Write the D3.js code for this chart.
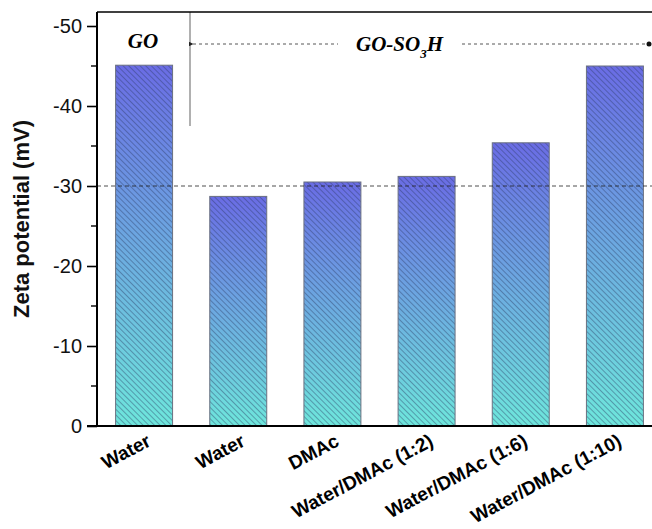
<!DOCTYPE html>
<html>
<head>
<meta charset="utf-8">
<script src="https://cdn.jsdelivr.net/npm/d3@7"></script>
<style>
  body { margin: 0; background: #fff; }
  svg { display: block; }
</style>
</head>
<body>
<div id="chart"></div>
<script>
var labels = ["Water", "Water", "DMAc", "Water/DMAc (1:2)", "Water/DMAc (1:6)", "Water/DMAc (1:10)"];
var zeta = [-45.1, -28.7, -30.5, -31.2, -35.4, -45.0];
var yTicks = [0, -10, -20, -30, -40, -50];
var yMinor = [-5, -15, -25, -35, -45];

var W = 652, H = 529;
var plot = {left: 97, right: 662, top: 12, bottom: 426};
var sans = "'Liberation Sans', Arial, sans-serif";
var serif = "'Liberation Serif', 'DejaVu Serif', serif";

var svg = d3.select("#chart").append("svg")
  .attr("width", W)
  .attr("height", H);

var defs = svg.append("defs");
var grad = defs.append("linearGradient")
  .attr("id", "barGrad")
  .attr("x1", 0).attr("y1", 0).attr("x2", 0).attr("y2", 1);
grad.append("stop").attr("offset", "0%").attr("stop-color", "#6a6ce4");
grad.append("stop").attr("offset", "100%").attr("stop-color", "#6ee6dc");

var hatch = defs.append("pattern")
  .attr("id", "hatch")
  .attr("patternUnits", "userSpaceOnUse")
  .attr("width", 4).attr("height", 4)
  .attr("patternTransform", "rotate(-45)");
hatch.append("line")
  .attr("x1", 0.5).attr("y1", 0).attr("x2", 0.5).attr("y2", 4)
  .attr("stroke", "#2a3a60")
  .attr("stroke-opacity", 0.45)
  .attr("stroke-width", 0.9);

var x = d3.scaleBand()
  .domain(d3.range(labels.length))
  .range([plot.left, plot.right])
  .paddingInner(0.395)
  .paddingOuter(0.1975);

var y = d3.scaleLinear()
  .domain([0, -51.75])
  .range([plot.bottom, plot.top]);

// bars: gradient fill, then hatch on top
var bars = svg.append("g");
bars.selectAll("rect.fill")
  .data(zeta)
  .join("rect")
  .attr("class", "fill")
  .attr("x", (d, i) => x(i))
  .attr("y", d => y(d))
  .attr("width", x.bandwidth())
  .attr("height", d => y(0) - y(d))
  .attr("fill", "url(#barGrad)");
bars.selectAll("rect.hatch")
  .data(zeta)
  .join("rect")
  .attr("class", "hatch")
  .attr("x", (d, i) => x(i))
  .attr("y", d => y(d))
  .attr("width", x.bandwidth())
  .attr("height", d => y(0) - y(d))
  .attr("fill", "url(#hatch)")
  .attr("stroke", "#6b7180")
  .attr("stroke-width", 1);

// -30 reference line
svg.append("line")
  .attr("x1", plot.left).attr("x2", W)
  .attr("y1", y(-30)).attr("y2", y(-30))
  .attr("stroke", "#222")
  .attr("stroke-width", 0.8)
  .attr("stroke-dasharray", "4,3");

// divider between GO and GO-SO3H
svg.append("line")
  .attr("x1", 190).attr("x2", 190)
  .attr("y1", plot.top).attr("y2", y(-37.5))
  .attr("stroke", "#b0b0b0")
  .attr("stroke-width", 2);

// annotation arrow
var annY = 44;
defs.append("marker")
  .attr("id", "arrow")
  .attr("viewBox", "0 0 10 10")
  .attr("refX", 1).attr("refY", 5)
  .attr("markerWidth", 5).attr("markerHeight", 5)
  .attr("orient", "auto-start-reverse")
  .append("path")
  .attr("d", "M10,0 L0,5 L10,10 z")
  .attr("fill", "#222");
svg.append("line")
  .attr("x1", 193).attr("x2", 338)
  .attr("y1", annY).attr("y2", annY)
  .attr("stroke", "#444")
  .attr("stroke-width", 0.9)
  .attr("stroke-dasharray", "3,3")
  .attr("marker-start", "url(#arrow)");
svg.append("line")
  .attr("x1", 462).attr("x2", 648)
  .attr("y1", annY).attr("y2", annY)
  .attr("stroke", "#444")
  .attr("stroke-width", 0.9)
  .attr("stroke-dasharray", "3,3");
svg.append("circle")
  .attr("cx", 649).attr("cy", annY).attr("r", 2.5)
  .attr("fill", "#111");

svg.append("text")
  .attr("x", 143).attr("y", 48)
  .attr("text-anchor", "middle")
  .style("font-family", serif)
  .style("font-weight", "bold")
  .style("font-style", "italic")
  .style("font-size", "21px")
  .text("GO");

var soText = svg.append("text")
  .attr("x", 356).attr("y", 51)
  .style("font-family", serif)
  .style("font-weight", "bold")
  .style("font-style", "italic")
  .style("font-size", "21px");
soText.append("tspan").text("GO-SO");
soText.append("tspan").attr("dy", 7).style("font-size", "13px").text("3");
soText.append("tspan").attr("dy", -7).attr("dx", 0).text("H");

// frame top
svg.append("line")
  .attr("x1", plot.left).attr("x2", W)
  .attr("y1", plot.top).attr("y2", plot.top)
  .attr("stroke", "#000")
  .attr("stroke-width", 1.6);

// y axis
var yAxis = svg.append("g")
  .attr("transform", "translate(" + plot.left + ",0)")
  .call(d3.axisLeft(y).tickValues(yTicks).tickSize(10).tickPadding(5).tickFormat(d => String(d)));
yAxis.select(".domain").remove();
yAxis.selectAll(".tick line").attr("stroke-width", 1.6);
yAxis.selectAll("text")
  .style("font-family", sans)
  .style("font-size", "20px")
  .attr("fill", "#111");
svg.append("g")
  .selectAll("line")
  .data(yMinor)
  .join("line")
  .attr("x1", plot.left - 6).attr("x2", plot.left)
  .attr("y1", d => y(d)).attr("y2", d => y(d))
  .attr("stroke", "#000")
  .attr("stroke-width", 1.4);
svg.append("line")
  .attr("x1", plot.left).attr("x2", plot.left)
  .attr("y1", plot.top).attr("y2", plot.bottom)
  .attr("stroke", "#000")
  .attr("stroke-width", 2);

// x axis
svg.append("line")
  .attr("x1", plot.left - 10).attr("x2", W)
  .attr("y1", plot.bottom).attr("y2", plot.bottom)
  .attr("stroke", "#000")
  .attr("stroke-width", 2);

svg.append("g")
  .selectAll("text")
  .data(labels)
  .join("text")
  .attr("transform", (d, i) => "translate(" + (x(i) + x.bandwidth() / 2 + 8) + "," + (plot.bottom + 19) + ") rotate(-28)")
  .attr("text-anchor", "end")
  .style("font-family", sans)
  .style("font-weight", "bold")
  .style("font-size", "19px")
  .attr("fill", "#000")
  .text(d => d);

// y label
svg.append("text")
  .attr("transform", "translate(29,219) rotate(-90)")
  .attr("text-anchor", "middle")
  .style("font-family", sans)
  .style("font-weight", "bold")
  .style("font-size", "22px")
  .attr("fill", "#111")
  .text("Zeta potential (mV)");
</script>
</body>
</html>
